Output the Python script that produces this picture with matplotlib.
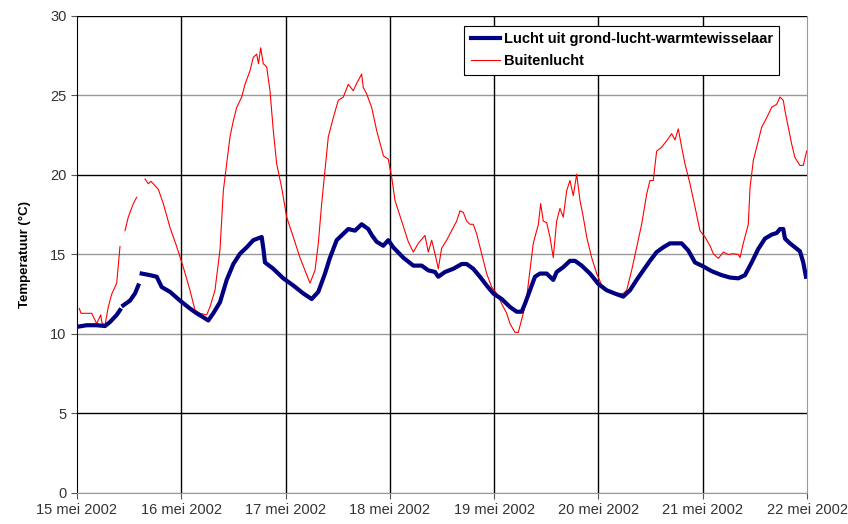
import matplotlib
matplotlib.use("Agg")
import matplotlib.pyplot as plt
import numpy as np
from datetime import datetime, timedelta

nan = np.nan

# hours after 15 mei 2002 00:00, temperature in degC
buiten_uur = [0.53, 0.92, 3.38, 4.53, 5.45, 5.75, 6.44, 7.20, 7.98, 9.14, 9.89, 10.4,
              11.05, 11.80, 12.96, 13.74, 14.7,
              15.65, 16.41, 17.03, 18.71, 19.86, 21.40, 22.94, 24.46, 26.00, 27.15,
              28.30, 29.85, 30.60, 31.75, 32.91, 33.67, 34.45, 35.21, 35.97, 36.75,
              37.90, 38.66, 39.81, 40.57, 41.35, 41.77, 42.27, 42.87, 43.65, 44.41,
              45.17, 45.95, 47.10, 48.25, 49.77, 51.31, 52.47, 53.62, 54.77, 55.53,
              56.31, 57.07, 57.83, 58.98, 60.13, 61.28, 62.43, 63.58, 64.43, 65.51,
              65.88, 66.66, 67.81, 68.96, 70.52, 71.63, 72.42, 73.18, 74.72, 76.24,
              77.39, 78.54, 80.08, 80.84, 81.62, 82.38, 83.14, 83.92, 85.07, 86.22,
              87.37, 88.13, 88.89, 89.67, 90.43, 91.19, 91.97, 93.12, 94.27, 95.43,
              96.58, 97.73, 98.88, 99.64, 100.79, 101.55, 102.70, 103.48, 104.24,
              105.00, 105.78, 106.15, 106.70, 107.30, 108.08, 108.84, 109.60, 110.38,
              111.14, 111.90, 112.68, 113.44, 114.20, 114.99, 115.75, 116.51, 117.29,
              118.44, 119.59, 121.11, 122.65, 124.19, 125.71, 126.49, 127.64, 128.79,
              129.94, 131.10, 131.85, 132.61, 133.39, 134.54, 135.69, 136.85, 137.61,
              138.37, 139.15, 139.91, 141.06, 142.21, 143.36, 144.52, 145.67, 146.43,
              147.58, 148.73, 149.88, 151.03, 152.18, 152.57, 153.33, 154.48, 154.88,
              155.63, 156.78, 157.56, 158.71, 159.86, 161.01, 161.77, 162.53, 162.92,
              163.68, 164.46, 165.22, 166.37, 167.13, 167.91]
buiten_temp = [11.6, 11.3, 11.3, 10.65, 11.2, 10.7, 10.55, 11.7, 12.5, 13.2, 15.5, nan,
               16.5, 17.35, 18.2, 18.6, nan,
               19.75, 19.45, 19.6, 19.1, 18.2, 16.7, 15.5, 14.2, 12.75, 11.5,
               11.3, 11.2, 11.7, 12.75, 15.3, 19.0, 20.7, 22.4, 23.4, 24.25,
               24.9, 25.7, 26.55, 27.4, 27.6, 27.0, 28.0, 27.0, 26.8, 25.3,
               22.8, 20.7, 19.2, 17.35, 16.1, 14.8, 14.0, 13.2, 14.0, 15.7,
               18.2, 20.3, 22.4, 23.6, 24.7, 24.9, 25.7, 25.3, 25.8, 26.35,
               25.5, 25.1, 24.25, 22.8, 21.2, 21.0, 19.85, 18.4, 17.1, 15.8,
               15.15, 15.7, 16.2, 15.15, 15.9, 15.05, 14.1, 15.4, 15.9, 16.5,
               17.1, 17.75, 17.65, 17.1, 16.9, 16.9, 16.3, 15.05, 13.8, 12.95,
               12.55, 11.9, 11.3, 10.65, 10.1, 10.1, 11.3, 12.3, 14.0,
               15.7, 16.5, 16.85, 18.2, 17.1, 17.0, 16.1, 14.8, 17.1,
               17.9, 17.35, 19.0, 19.65, 18.7, 20.05, 18.4, 17.35, 16.1,
               14.8, 13.8, 12.85, 12.65, 12.55, 12.55, 12.75, 14.0, 15.45,
               16.9, 18.8, 19.65, 19.65, 21.5, 21.75, 22.15, 22.6, 22.2,
               22.9, 21.75, 20.7, 19.45, 18.0, 16.5, 16.1, 15.55, 15.05,
               14.75, 15.15, 15.0, 15.05, 15.0, 14.8, 15.7, 16.9, 19.2,
               20.9, 22.15, 23.0, 23.6, 24.25, 24.45, 24.9, 24.7, 24.05,
               23.0, 21.95, 21.1, 20.6, 20.6, 21.5]

wtw_uur = [0.0, 2.23, 4.53, 6.44, 7.59, 9.14, 9.89, 10.3,
           10.65, 12.20, 13.35, 14.11, 14.5,
           14.89, 16.80, 18.34, 19.49, 21.40, 23.70, 26.00, 27.54, 29.06, 30.21,
           31.36, 32.91, 34.45, 35.97, 37.51, 39.05, 40.57, 42.50, 42.92, 43.26,
           45.17, 47.47, 49.77, 52.07, 54.01, 55.53, 57.07, 58.22, 59.76, 61.28,
           62.43, 63.97, 65.51, 67.03, 67.88, 68.96, 70.48, 71.63, 72.78, 75.09,
           77.39, 79.32, 80.84, 82.38, 83.14, 84.68, 86.59, 88.52, 89.67, 91.19,
           92.73, 94.27, 95.79, 97.73, 99.64, 101.18, 102.33, 103.09, 104.24,
           105.39, 106.54, 108.08, 108.84, 109.60, 110.38, 111.90, 113.44, 114.60,
           116.14, 118.05, 119.96, 121.89, 124.19, 125.71, 127.26, 128.79, 130.31,
           131.85, 133.39, 134.91, 136.45, 139.15, 140.67, 142.21, 144.12, 146.05,
           148.35, 150.26, 152.18, 153.72, 155.26, 156.78, 158.32, 159.86, 161.01,
           161.77, 162.53, 162.92, 164.07, 165.22, 166.37, 167.13, 167.75]
wtw_temp = [10.45, 10.55, 10.55, 10.5, 10.75, 11.2, 11.5, nan,
            11.8, 12.1, 12.55, 13.05, nan,
            13.8, 13.7, 13.6, 12.95, 12.65, 12.1, 11.6, 11.3, 11.05, 10.85,
            11.3, 12.0, 13.4, 14.4, 15.05, 15.45, 15.9, 16.1, 15.3, 14.5,
            14.1, 13.5, 13.05, 12.55, 12.2, 12.65, 13.8, 14.8, 15.9, 16.3,
            16.6, 16.5, 16.9, 16.6, 16.2, 15.8, 15.55, 15.9, 15.45, 14.8,
            14.3, 14.3, 14.0, 13.9, 13.6, 13.9, 14.1, 14.4, 14.4, 14.1,
            13.6, 13.05, 12.55, 12.2, 11.7, 11.4, 11.4, 11.9, 12.75,
            13.6, 13.8, 13.8, 13.6, 13.4, 13.9, 14.2, 14.6, 14.6,
            14.3, 13.8, 13.15, 12.75, 12.5, 12.35, 12.75, 13.4, 14.0,
            14.6, 15.15, 15.45, 15.7, 15.7, 15.25, 14.5, 14.25, 13.95,
            13.7, 13.55, 13.5, 13.7, 14.5, 15.35, 16.0, 16.25, 16.35,
            16.6, 16.6, 16.0, 15.7, 15.45, 15.2, 14.5, 13.6]

dagen = ["15 mei 2002", "16 mei 2002", "17 mei 2002", "18 mei 2002",
         "19 mei 2002", "20 mei 2002", "21 mei 2002", "22 mei 2002"]
y_ticks = [0, 5, 10, 15, 20, 25, 30]

start = datetime(2002, 5, 15)
def to_dates(uren):
    return [start + timedelta(hours=h) for h in uren]

plt.rcParams['font.family'] = ['Liberation Sans', 'DejaVu Sans']

fig = plt.figure(figsize=(8.48, 5.24), dpi=100)
ax = fig.add_axes([0.0908, 0.0592, 0.8609, 0.9103])

# gridlines: black for 5/20/30 and days, grey for the rest
for t in y_ticks:
    kleur = 'black' if t in (5, 20, 30) else '#999999'
    ax.axhline(t, color=kleur, lw=1.0, zorder=0)
day_pos = [start + timedelta(days=i) for i in range(len(dagen))]
for d in day_pos[1:-1]:
    ax.axvline(d, color='black', lw=1.0, zorder=0)

ax.plot(to_dates(wtw_uur), wtw_temp, color='#000080', lw=3.0,
        label='Lucht uit grond-lucht-warmtewisselaar', zorder=3)
ax.plot(to_dates(buiten_uur), buiten_temp, color='#ff0000', lw=0.8,
        label='Buitenlucht', zorder=2)

ax.set_xlim(day_pos[0], day_pos[-1])
ax.set_ylim(0, 30)
ax.set_yticks(y_ticks)
ax.set_xticks(day_pos)
ax.set_xticklabels(dagen)
ax.tick_params(axis='both', direction='out', length=4, width=0.8, colors='#555555',
               labelsize=10.5, labelcolor='#333333')
ax.tick_params(axis='x', pad=3)

ax.spines['left'].set_color('black')
ax.spines['top'].set_visible(False)
ax.spines['right'].set_color('#999999')
ax.spines['bottom'].set_color('#999999')

ax.set_ylabel('Temperatuur (°C)', fontsize=9.5, fontweight='bold', labelpad=14)

leg = ax.legend(loc='upper right', bbox_to_anchor=(0.968, 0.989), fancybox=False,
                framealpha=1, edgecolor='black', borderpad=0.45, handlelength=2.0,
                handletextpad=0.25, labelspacing=0.55, borderaxespad=0.3,
                prop={'weight': 'bold', 'size': 10.5})
leg.get_frame().set_linewidth(0.8)

fig.savefig('out.png', dpi=100)
